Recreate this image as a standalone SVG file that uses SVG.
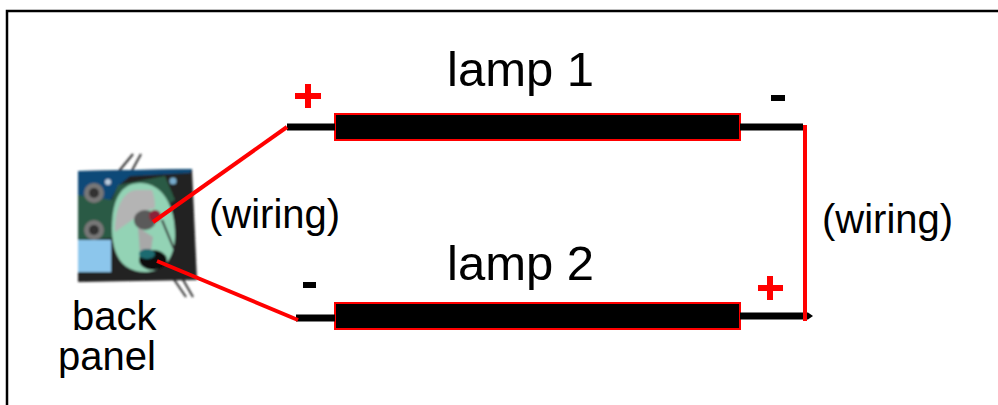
<svg xmlns="http://www.w3.org/2000/svg" width="998" height="405" viewBox="0 0 998 405">
<defs><filter id="soft" x="-5%" y="-5%" width="110%" height="110%"><feGaussianBlur stdDeviation="0.8"/></filter></defs>
<style>
.t{font-family:"Liberation Sans",Arial,sans-serif;fill:#000}
.l{font-size:49px}
.w{font-size:40px}
.b{font-size:40px}
.lamp{fill:#000;stroke:#f00;stroke-width:2}
.lead{stroke:#000;stroke-width:7;fill:none}
.red{stroke:#f00;stroke-width:4;fill:none}
.sign{stroke-width:6;fill:none}
</style>
<rect width="998" height="405" fill="#fff"/>
<path d="M7 405V11H998" fill="none" stroke="#000" stroke-width="2.5"/>
<g id="back-panel" filter="url(#soft)">
<path d="M133 154L110 182M141 154L113 205M173 278L186 297M182 278L193 297" stroke="#333" stroke-width="2" fill="none"/>
<path d="M78 171L192 169L197 280L78 282Z" fill="#222"/>
<path d="M78 171L192 169L190 173L130 176L118 186L108 205L78 200Z" fill="#0d4a78"/>
<path d="M78 195L112 200L118 185L165 176L175 200L112 238L78 240Z" fill="#2c5a44"/>
<rect x="78" y="240" width="33" height="32" fill="#8cc6ec"/>
<circle cx="94" cy="193" r="10" fill="#777"/><circle cx="94" cy="193" r="5" fill="#333"/>
<circle cx="94" cy="230" r="10" fill="#777"/><circle cx="94" cy="230" r="5" fill="#333"/>
<circle cx="108" cy="182" r="3" fill="#bcd"/><circle cx="173" cy="181" r="3.5" fill="#7ac"/>
<path d="M112 228C112 198 122 183 140 183C162 183 175 205 175 235C175 262 160 272 145 272C122 272 112 255 112 228Z" fill="#93d3b5"/>
<path d="M115 232C115 205 125 190 137 190L152 190C155 198 155 204 155 208L140 212L135 218Z" fill="#b4b4b4"/>
<path d="M138 227L153 237L150 257L140 253Z" fill="#a8a8a8"/>
<ellipse cx="145" cy="220" rx="11" ry="10" fill="#5a5a5a"/>
<ellipse cx="155" cy="216" rx="6" ry="6" fill="#8a2038"/>
<path d="M162 220L174 249" stroke="#333" stroke-width="2"/>
<ellipse cx="153" cy="260" rx="14" ry="10" fill="#0b0b0b"/>
<ellipse cx="147" cy="254" rx="8" ry="5" fill="#1c6a70"/>
</g>
<g id="lamp-1"><rect class="lamp" x="335" y="114" width="405" height="26"/></g>
<g id="lamp-2"><rect class="lamp" x="335" y="303" width="405" height="26"/></g>
<g id="connectors">
<path class="lead" d="M287 127H335M740 127H803"/>
<path class="lead" d="M296 318H335M740 316H808"/>
<path d="M808 312.500L813 316L808 319.500Z" fill="#000"/>
<path class="red" d="M153 222L287 127"/>
<path class="red" d="M157 261L298 320"/>
<path class="red" d="M805 125V321"/>
</g>
<g id="signs">
<path class="sign" stroke="#f00" d="M295 96H321M308 84V108"/>
<path class="sign" stroke="#f00" d="M758 288H783M770 276V300"/>
<path class="sign" stroke="#000" d="M771 98H785"/>
<path class="sign" stroke="#000" d="M303 285H316"/>
</g>
<text class="t l" x="447" y="86">lamp 1</text>
<text class="t l" x="447" y="280">lamp 2</text>
<text class="t w" x="209" y="228">(wiring)</text>
<text class="t w" x="822" y="233">(wiring)</text>
<text class="t b" x="72" y="330">back</text>
<text class="t b" x="58" y="370">panel</text>
</svg>
